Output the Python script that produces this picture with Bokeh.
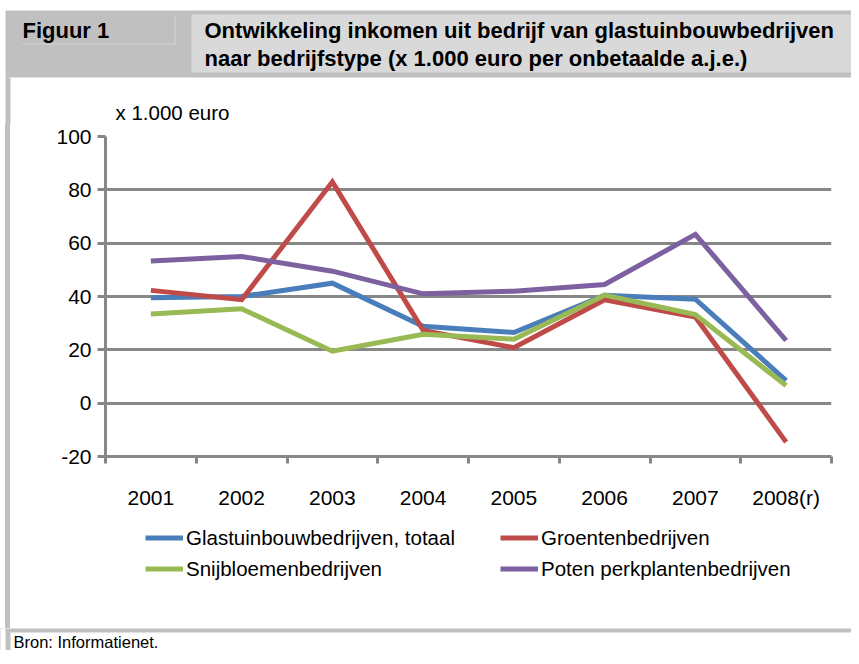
from bokeh.plotting import figure
from bokeh.models import Legend, LegendItem, FixedTicker, Range1d, Spacer
from bokeh.layouts import column, row
from bokeh.embed import file_html
from bokeh.resources import INLINE
from bokeh.core.properties import value

# ---- data ----
years = ["2001", "2002", "2003", "2004", "2005", "2006", "2007", "2008(r)"]
totaal = [39.5, 40.0, 45.0, 28.8, 26.5, 40.5, 39.0, 8.5]
groenten = [42.3, 38.8, 83.0, 27.3, 20.8, 38.8, 32.3, -14.6]
snijbloemen = [33.4, 35.4, 19.5, 25.8, 24.0, 40.5, 33.2, 6.6]
potplanten = [53.3, 55.0, 49.5, 41.0, 42.0, 44.5, 63.3, 23.5]
series_names = ["Glastuinbouwbedrijven, totaal", "Groentenbedrijven",
                "Snijbloemenbedrijven", "Poten perkplantenbedrijven"]
series_values = [totaal, groenten, snijbloemen, potplanten]
colors = ["#4A7EBB", "#BE4B48", "#98B954", "#7D60A0"]
y_ticks = [-20, 0, 20, 40, 60, 80, 100]
y_label = "x 1.000 euro"
fig_label = "Figuur 1"
title_lines = ["Ontwikkeling inkomen uit bedrijf van glastuinbouwbedrijven",
               "naar bedrijfstype (x 1.000 euro per onbetaalde a.j.e.)"]
source_note = "Bron: Informatienet."

FONT = "Liberation Sans"
GRAY = "#878787"
FRAME_GRAY = "#C0C0C0"
W = 851
PW = W - 10       # inner white panel width, x 10 .. 851


def deco_figure(h, bg="white"):
    f = figure(width=W, height=h, output_backend="svg", toolbar_location=None,
               x_range=Range1d(0, W), y_range=Range1d(h, 0),
               min_border=0, min_border_left=0, min_border_right=0,
               min_border_top=0, min_border_bottom=0)
    f.axis.visible = False
    f.grid.visible = False
    f.outline_line_color = None
    f.border_fill_color = bg
    f.background_fill_color = bg
    return f


def rect(f, l, r, t, b, color):
    f.quad(left=[l], right=[r], top=[t], bottom=[b], fill_color=color, line_color=None)


def framed(child, h):
    return row(Spacer(width=5, height=h),
               Spacer(width=5, height=h, styles={"background-color": FRAME_GRAY}),
               child, spacing=0)


# ---- header (title band + y-axis caption) ----
HH = 124
hd = deco_figure(HH)
rect(hd, 5, W, 10, 77, FRAME_GRAY)
rect(hd, 5, 10, 77, HH, FRAME_GRAY)
rect(hd, 191, W, 14, 72, "#D9D9D9")
rect(hd, 22, 174, 43, 44, "#D3D3D3")
rect(hd, 174, 175, 15, 44, "#D3D3D3")
hd.text(x=[22], y=[30], text=[fig_label], text_font=value(FONT),
        text_font_style="bold", text_font_size="22px", text_baseline="middle",
        text_color="black")
hd.text(x=[204, 204], y=[30, 58], text=title_lines, text_font=value(FONT),
        text_font_style="bold", text_font_size="22px", text_baseline="middle",
        text_color="black")
hd.text(x=[115], y=[112], text=[y_label], text_font=value(FONT),
        text_font_size="20.5px", text_baseline="middle", text_color="black")

# ---- main chart ----
MH = 391          # y 124 .. 515
p = figure(width=PW, height=MH, output_backend="svg", toolbar_location=None,
           x_range=Range1d(0, len(years)), y_range=Range1d(-20, 100),
           min_border_left=95, min_border_right=20,
           min_border_top=12, min_border_bottom=59)
p.border_fill_color = "white"
p.background_fill_color = "white"
p.outline_line_color = None

xs = [i + 0.5 for i in range(len(years))]
for name, vals, col in zip(series_names, series_values, colors):
    p.line(xs, vals, line_color=col, line_width=5, line_join="miter")

xa = p.xaxis[0]
xa.ticker = FixedTicker(ticks=xs, minor_ticks=list(range(len(years) + 1)))
xa.major_label_overrides = {x: y for x, y in zip(xs, years)}
xa.major_tick_line_color = None
xa.major_tick_out = 0
xa.major_tick_in = 0
xa.minor_tick_line_color = GRAY
xa.minor_tick_line_width = 3
xa.minor_tick_out = 7
xa.minor_tick_in = 0
xa.axis_line_color = GRAY
xa.axis_line_width = 3
xa.major_label_standoff = 22
xa.major_label_text_font = FONT
xa.major_label_text_font_size = "21px"
xa.major_label_text_color = "black"

ya = p.yaxis[0]
ya.ticker = FixedTicker(ticks=y_ticks, minor_ticks=[])
ya.major_label_overrides = {t: str(t) for t in y_ticks}
ya.major_tick_line_color = GRAY
ya.major_tick_line_width = 3
ya.major_tick_out = 8
ya.major_tick_in = 0
ya.axis_line_color = GRAY
ya.axis_line_width = 3
ya.major_label_standoff = 6
ya.major_label_text_font = FONT
ya.major_label_text_font_size = "21px"
ya.major_label_text_color = "black"

p.xgrid.visible = False
p.ygrid.ticker = FixedTicker(ticks=y_ticks)
p.ygrid.grid_line_color = GRAY
p.ygrid.grid_line_width = 3

# ---- legend panel ----
LH = 113          # y 515 .. 628
lg = figure(width=PW, height=LH, output_backend="svg", toolbar_location=None,
            x_range=Range1d(0, len(years)), y_range=Range1d(-20, 100),
            min_border=0, min_border_left=0, min_border_right=0,
            min_border_top=0, min_border_bottom=0)
lg.axis.visible = False
lg.grid.visible = False
lg.outline_line_color = None
lg.border_fill_color = "white"
lg.background_fill_color = "white"
items = []
for name, vals, col in zip(series_names, series_values, colors):
    r = lg.line(xs, vals, line_color=col, line_width=5, visible=False)
    items.append(LegendItem(label=name, renderers=[r]))
legend = Legend(items=items, orientation="horizontal", ncols=2, location=(135, 47),
                glyph_width=38, glyph_height=25, label_height=25,
                label_width=308, label_standoff=3, spacing=6,
                padding=0, margin=0, border_line_color=None,
                background_fill_alpha=0, inactive_fill_alpha=0,
                label_text_font=FONT, label_text_font_size="20.5px",
                label_text_baseline="middle", label_text_color="black")
lg.add_layout(legend, "center")

# ---- footer ----
FH = 22           # y 628 .. 650
ft = deco_figure(FH, FRAME_GRAY)
rect(ft, 0, 5, 0, FH, "white")
rect(ft, 10, W, 4, FH, "white")
ft.text(x=[13], y=[13], text=[source_note], text_font=value(FONT),
        text_font_size="16.5px", text_baseline="middle", text_color="black")

layout = column(hd, framed(p, MH), framed(lg, LH), ft, spacing=0)
open("out.html", "w").write(file_html(layout, INLINE))
